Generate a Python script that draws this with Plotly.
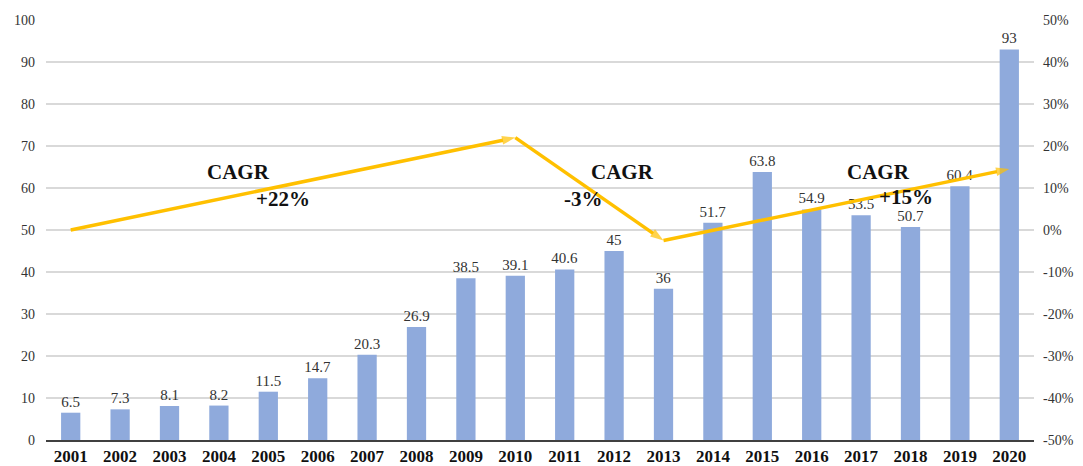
import plotly.graph_objects as go

years = [str(y) for y in range(2001, 2021)]
values = [6.5, 7.3, 8.1, 8.2, 11.5, 14.7, 20.3, 26.9, 38.5, 39.1, 40.6, 45, 36, 51.7, 63.8, 54.9, 53.5, 50.7, 60.4, 93]
value_labels = ["6.5", "7.3", "8.1", "8.2", "11.5", "14.7", "20.3", "26.9", "38.5", "39.1", "40.6", "45", "36", "51.7", "63.8", "54.9", "53.5", "50.7", "60.4", "93"]

cagr_years = ["2001", "2010", "2013", "2020"]
cagr_path = [0, 22, -2.5, 14.5]

pct_ticks = [-50, -40, -30, -20, -10, 0, 10, 20, 30, 40, 50]
pct_labels = ["-50%", "-40%", "-30%", "-20%", "-10%", "0%", "10%", "20%", "30%", "40%", "50%"]

cagr_texts = ["CAGR", "+22%", "CAGR", "-3%", "CAGR", "+15%"]

SERIF = "Liberation Serif, Times New Roman, serif"
GOLD = "#FFC000"
# page has an 8px body margin; plot area in window: x 46..1034, y 20..440
OFF = 8
PX0, PX1, PY0, PY1 = 46, 1034, 20, 440
W, H = 1083 - OFF, 466 - OFF
L, T = PX0 - OFF, PY0 - OFF
R, B = W - (PX1 - OFF), H - (PY1 - OFF)

fig = go.Figure()
fig.add_trace(go.Bar(
    x=years, y=values, text=value_labels, textposition="outside",
    textfont=dict(family=SERIF, size=15, color="#333333"),
    constraintext="none",
    marker=dict(color="#8FAADC", line=dict(width=0)),
    width=0.39, cliponaxis=False, showlegend=False,
))
fig.add_trace(go.Scatter(
    x=cagr_years, y=cagr_path, yaxis="y2", mode="lines+markers",
    line=dict(color=GOLD, width=3.5),
    marker=dict(symbol="arrow", angleref="previous", size=[0, 14, 14, 14], color=GOLD,
                line=dict(width=0)),
    showlegend=False, cliponaxis=False,
))

# label positions (pixel positions in the window)
label_px = [(238, 172), (283, 199), (622, 172), (583, 199), (878, 172), (906, 197)]
for txt, (px, py) in zip(cagr_texts, label_px):
    fig.add_annotation(
        x=(px - PX0) / (PX1 - PX0), y=(PY1 - py) / (PY1 - PY0), xref="paper", yref="paper",
        xanchor="center", yanchor="middle", text="<b>%s</b>" % txt, showarrow=False,
        font=dict(family=SERIF, size=21, color="#111111"),
    )

fig.update_layout(
    width=W, height=H,
    margin=dict(l=L, r=R, t=T, b=B, autoexpand=False),
    plot_bgcolor="white", paper_bgcolor="white",
    xaxis=dict(
        type="category", range=[-0.5, len(years) - 0.5], autorange=False,
        showgrid=False, showline=True, linecolor="#404040", linewidth=1.5,
        ticks="", tickfont=dict(family=SERIF, size=17, color="#111111"),
        tickprefix="<b>", ticksuffix="</b>",
    ),
    yaxis=dict(
        range=[0, 100], dtick=10, showgrid=True, gridcolor="#D9D9D9", gridwidth=1.5,
        zeroline=False, tickfont=dict(family=SERIF, size=14, color="#333333"),
        ticklabelstandoff=10,
    ),
    yaxis2=dict(
        range=[-50, 50], tickvals=pct_ticks, ticktext=pct_labels, overlaying="y", side="right",
        showgrid=False, zeroline=False, tickfont=dict(family=SERIF, size=14, color="#333333"),
        ticklabelstandoff=8,
    ),
)

fig.write_html("out.html")
